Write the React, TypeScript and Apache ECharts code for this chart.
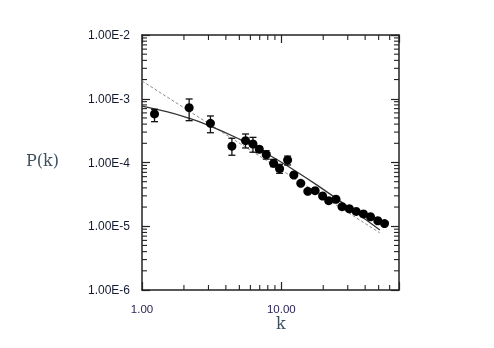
import React, { useEffect, useRef } from "react";
import * as echarts from "echarts";

// Measured data points (k, P(k))
const kVals = [1.23, 2.18, 3.1, 4.42, 5.54, 6.26, 6.95, 7.8, 8.81, 9.72, 11.1, 12.3, 13.8, 15.5, 17.5, 19.8, 21.9, 24.7, 27.3, 30.8, 34.5, 38.9, 43.7, 49.3, 55.1];
const pVals = [5.77e-4, 7.24e-4, 4.12e-4, 1.8e-4, 2.2e-4, 1.95e-4, 1.62e-4, 1.33e-4, 9.71e-5, 8.0e-5, 1.09e-4, 6.37e-5, 4.72e-5, 3.53e-5, 3.61e-5, 2.98e-5, 2.52e-5, 2.65e-5, 2.03e-5, 1.88e-5, 1.71e-5, 1.56e-5, 1.41e-5, 1.22e-5, 1.1e-5];
const errLo = [4.37e-4, 4.53e-4, 2.93e-4, 1.3e-4, 1.69e-4, 1.45e-4, 1.43e-4, 1.13e-4, 8.6e-5, 6.77e-5, 9.14e-5, null, null, null, null, null, null, null, null, null, null, null, null, null, null];
const errHi = [6.83e-4, 9.91e-4, 5.37e-4, 2.4e-4, 2.8e-4, 2.48e-4, 1.77e-4, 1.53e-4, 1.12e-4, 9.38e-5, 1.26e-4, null, null, null, null, null, null, null, null, null, null, null, null, null, null];

// Solid fitted curve
const fitK = [1, 1.5, 2, 3, 5, 8, 12, 20, 30, 51];
const fitP = [7.69e-4, 6.28e-4, 5.24e-4, 3.83e-4, 2.33e-4, 1.35e-4, 7.92e-5, 3.79e-5, 2.04e-5, 8.75e-6];

// Dotted power-law line
const lineK = [1, 50.9];
const lineP = [1.9e-3, 7.9e-6];

// Axis ranges and minor tick values
const X_MIN = 1;
const X_MAX = 70;
const Y_MIN = 1e-6;
const Y_MAX = 1e-2;
const xMinorTicks = [2, 3, 4, 5, 6, 7, 8, 9, 20, 30, 40, 50, 60];
const yMinorTicks = [
  2e-6, 3e-6, 4e-6, 5e-6, 6e-6, 7e-6, 8e-6, 9e-6,
  2e-5, 3e-5, 4e-5, 5e-5, 6e-5, 7e-5, 8e-5, 9e-5,
  2e-4, 3e-4, 4e-4, 5e-4, 6e-4, 7e-4, 8e-4, 9e-4,
  2e-3, 3e-3, 4e-3, 5e-3, 6e-3, 7e-3, 8e-3, 9e-3,
];

const isPow10 = (v: number) => Math.abs(Math.log10(v) - Math.round(Math.log10(v))) < 1e-6;

export default function App() {
  const ref = useRef<HTMLDivElement>(null);
  useEffect(() => {
    if (!ref.current) return;
    const chart = echarts.init(ref.current, null, { renderer: "svg" });
    const axisLine = { show: true, lineStyle: { color: "#222", width: 1.5 } };
    const majorTick = { show: true, inside: true, length: 8, lineStyle: { color: "#222", width: 1.2 } };

    const scatterData = kVals.map((k, i) => [k, pVals[i]]);
    const errData = kVals
      .map((k, i) => [k, pVals[i], errLo[i], errHi[i]])
      .filter((d) => d[2] != null && d[3] != null);
    const tickData = [
      ...xMinorTicks.map((v) => [v, Y_MIN, 0]),
      ...yMinorTicks.map((v) => [X_MIN, v, 1]),
    ];

    chart.setOption({
      animation: false,
      grid: { left: 142, right: 95, top: 35, bottom: 58 },
      xAxis: [
        {
          type: "log",
          logBase: 10,
          min: X_MIN,
          max: X_MAX,
          position: "bottom",
          axisLine,
          axisTick: majorTick,
          splitLine: { show: false },
          axisLabel: {
            margin: 13,
            fontSize: 11.5,
            fontFamily: "Liberation Sans, Arial, sans-serif",
            color: "#2e2456",
            formatter: (v: number) => (isPow10(v) ? v.toFixed(2) : ""),
          },
        },
        {
          type: "log",
          logBase: 10,
          min: X_MIN,
          max: X_MAX,
          position: "top",
          axisLine,
          axisTick: majorTick,
          splitLine: { show: false },
          axisLabel: { show: false },
        },
      ],
      yAxis: [
        {
          type: "log",
          logBase: 10,
          min: Y_MIN,
          max: Y_MAX,
          position: "left",
          axisLine,
          axisTick: majorTick,
          splitLine: { show: false },
          axisLabel: {
            margin: 12,
            fontSize: 12,
            fontFamily: "Liberation Sans, Arial, sans-serif",
            color: "#141a30",
            formatter: (v: number) => v.toExponential(2).toUpperCase().replace("+", ""),
          },
        },
        {
          type: "log",
          logBase: 10,
          min: Y_MIN,
          max: Y_MAX,
          position: "right",
          axisLine,
          axisTick: majorTick,
          splitLine: { show: false },
          axisLabel: { show: false },
        },
      ],
      series: [
        {
          type: "custom",
          name: "minorTicks",
          silent: true,
          data: tickData,
          renderItem: (params: any, api: any) => {
            const kind = api.value(2);
            const len = 5;
            const st = { stroke: "#222", lineWidth: 1.1 };
            if (kind === 0) {
              const v = api.value(0);
              const b = api.coord([v, Y_MIN]);
              const t = api.coord([v, Y_MAX]);
              return {
                type: "group",
                children: [
                  { type: "line", shape: { x1: b[0], y1: b[1], x2: b[0], y2: b[1] - len }, style: st },
                  { type: "line", shape: { x1: t[0], y1: t[1], x2: t[0], y2: t[1] + len }, style: st },
                ],
              };
            }
            const v = api.value(1);
            const l = api.coord([X_MIN, v]);
            const r = api.coord([X_MAX, v]);
            return {
              type: "group",
              children: [
                { type: "line", shape: { x1: l[0], y1: l[1], x2: l[0] + len, y2: l[1] }, style: st },
                { type: "line", shape: { x1: r[0], y1: r[1], x2: r[0] - len, y2: r[1] }, style: st },
              ],
            };
          },
          z: 1,
        },
        {
          type: "line",
          name: "power law",
          data: lineK.map((k, i) => [k, lineP[i]]),
          showSymbol: false,
          symbol: "none",
          lineStyle: { color: "#8a8a8a", width: 1, type: [3, 2] },
          z: 2,
        },
        {
          type: "line",
          name: "fit",
          data: fitK.map((k, i) => [k, fitP[i]]),
          smooth: true,
          showSymbol: false,
          symbol: "none",
          lineStyle: { color: "#333", width: 1.3 },
          z: 3,
        },
        {
          type: "custom",
          name: "errors",
          data: errData,
          renderItem: (params: any, api: any) => {
            const x = api.value(0);
            const lo = api.coord([x, api.value(2)]);
            const hi = api.coord([x, api.value(3)]);
            const cw = 3.5;
            const st = { stroke: "#111", lineWidth: 1.3 };
            return {
              type: "group",
              children: [
                { type: "line", shape: { x1: lo[0], y1: lo[1], x2: hi[0], y2: hi[1] }, style: st },
                { type: "line", shape: { x1: lo[0] - cw, y1: lo[1], x2: lo[0] + cw, y2: lo[1] }, style: st },
                { type: "line", shape: { x1: hi[0] - cw, y1: hi[1], x2: hi[0] + cw, y2: hi[1] }, style: st },
              ],
            };
          },
          z: 4,
        },
        {
          type: "scatter",
          name: "P(k)",
          data: scatterData,
          symbol: "circle",
          symbolSize: 9,
          itemStyle: { color: "#000", opacity: 1 },
          z: 5,
        },
      ],
      graphic: [
        {
          type: "text",
          left: 26,
          top: 152,
          style: {
            text: "P(k)",
            font: "16px 'DejaVu Serif', serif",
            fill: "#3d5060",
          },
        },
        {
          type: "text",
          left: 276,
          top: 315,
          style: {
            text: "k",
            font: "16px 'DejaVu Serif', serif",
            fill: "#3d5060",
          },
        },
      ],
    });
    return () => chart.dispose();
  }, []);
  return <div ref={ref} style={{ position: "fixed", left: 0, top: 0, width: 494, height: 348 }} />;
}
